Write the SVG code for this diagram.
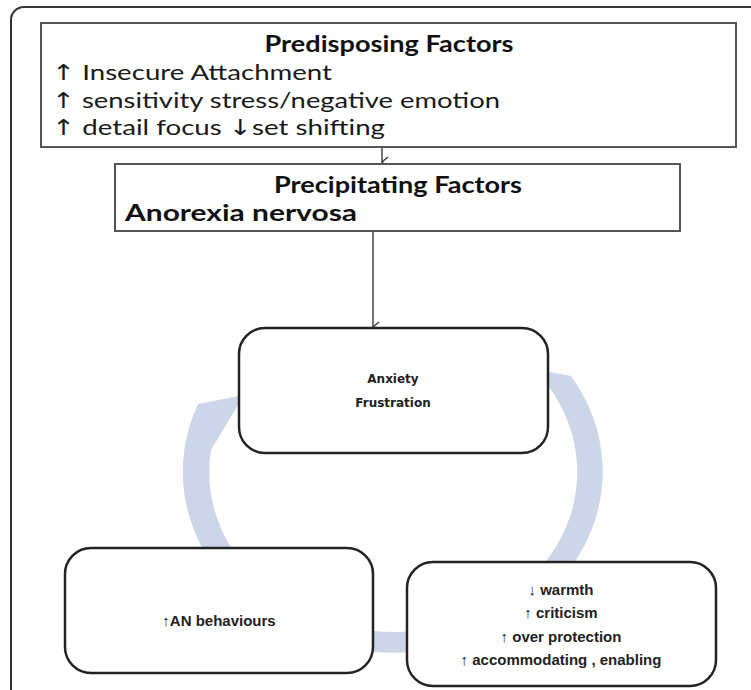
<svg xmlns="http://www.w3.org/2000/svg" width="751" height="690" viewBox="0 0 751 690">
<defs>
<style>
.sq{fill:#fff;stroke:#555;stroke-width:2}
.rd{fill:#fff;stroke:#222;stroke-width:2.5}
.cal{font-family:Lato,"Open Sans","Liberation Sans",sans-serif;fill:#1a1a1a}
.calb{font-family:Lato,"Open Sans","Liberation Sans",sans-serif;font-weight:bold;fill:#111}
.arr{font-family:"DejaVu Sans",sans-serif;font-weight:normal}
.ver{font-family:"DejaVu Sans",Verdana,sans-serif;font-weight:bold;font-size:12px;fill:#222}
.ari{font-family:"Liberation Sans",Arial,sans-serif;font-weight:bold;font-size:15px;fill:#222}
.conn{stroke:#444;stroke-width:1.5;fill:none}
</style>
<marker id="vh" viewBox="0 0 12 12" refX="6" refY="11" markerWidth="12" markerHeight="12" markerUnits="userSpaceOnUse" orient="auto-start-reverse">
<path d="M1,5 L6,11 L11,5" fill="none" stroke="#444" stroke-width="1.5"/>
</marker>
</defs>
<rect width="751" height="690" fill="#fff"/>
<rect id="frame" x="11" y="7" width="760" height="700" rx="13" fill="none" stroke="#333" stroke-width="2"/>

<g id="cycle-band">
<path d="M571,376 A210,181 0 1 1 198,404 L244,395 L211,450 A184,160 0 1 0 534,369 Z" fill="#cdd6e8"/>
</g>

<g id="connectors">
<line class="conn" x1="382" y1="148" x2="382" y2="162" marker-end="url(#vh)"/>
<line class="conn" x1="373" y1="232" x2="373" y2="327" marker-end="url(#vh)"/>
</g>

<g id="predisposing">
<rect class="sq" x="41" y="23" width="695" height="124"/>
<text class="calb" x="389" y="52" font-size="22" text-anchor="middle" textLength="249" lengthAdjust="spacingAndGlyphs">Predisposing Factors</text>
<text class="cal" x="52" y="80" font-size="22" textLength="280" lengthAdjust="spacingAndGlyphs"><tspan class="arr">↑</tspan> Insecure Attachment</text>
<text class="cal" x="52" y="108" font-size="22" textLength="448" lengthAdjust="spacingAndGlyphs"><tspan class="arr">↑</tspan> sensitivity stress/negative emotion</text>
<text class="cal" x="52" y="135" font-size="22" textLength="333" lengthAdjust="spacingAndGlyphs"><tspan class="arr">↑</tspan> detail focus <tspan class="arr">↓</tspan>set shifting</text>
</g>

<g id="precipitating">
<rect class="sq" x="115" y="164" width="565" height="67"/>
<text class="calb" x="398" y="193" font-size="22" text-anchor="middle" textLength="248" lengthAdjust="spacingAndGlyphs">Precipitating Factors</text>
<text class="calb" x="125" y="221" font-size="22" textLength="232" lengthAdjust="spacingAndGlyphs">Anorexia nervosa</text>
</g>

<g id="anxiety">
<rect class="rd" x="239" y="328" width="309" height="125" rx="26"/>
<text class="ver" x="393" y="383" text-anchor="middle">Anxiety</text>
<text class="ver" x="393" y="407" text-anchor="middle">Frustration</text>
</g>

<g id="an-behaviours">
<rect class="rd" x="65" y="548" width="308" height="125" rx="26"/>
<text class="ari" x="219" y="626" text-anchor="middle">↑AN behaviours</text>
</g>

<g id="family-response">
<rect class="rd" x="407" y="562" width="309" height="124" rx="26"/>
<text class="ari" x="561" y="595" text-anchor="middle">↓ warmth</text>
<text class="ari" x="561" y="618" text-anchor="middle">↑ criticism</text>
<text class="ari" x="561" y="642" text-anchor="middle">↑ over protection</text>
<text class="ari" x="561" y="665" text-anchor="middle">↑ accommodating , enabling</text>
</g>
</svg>
